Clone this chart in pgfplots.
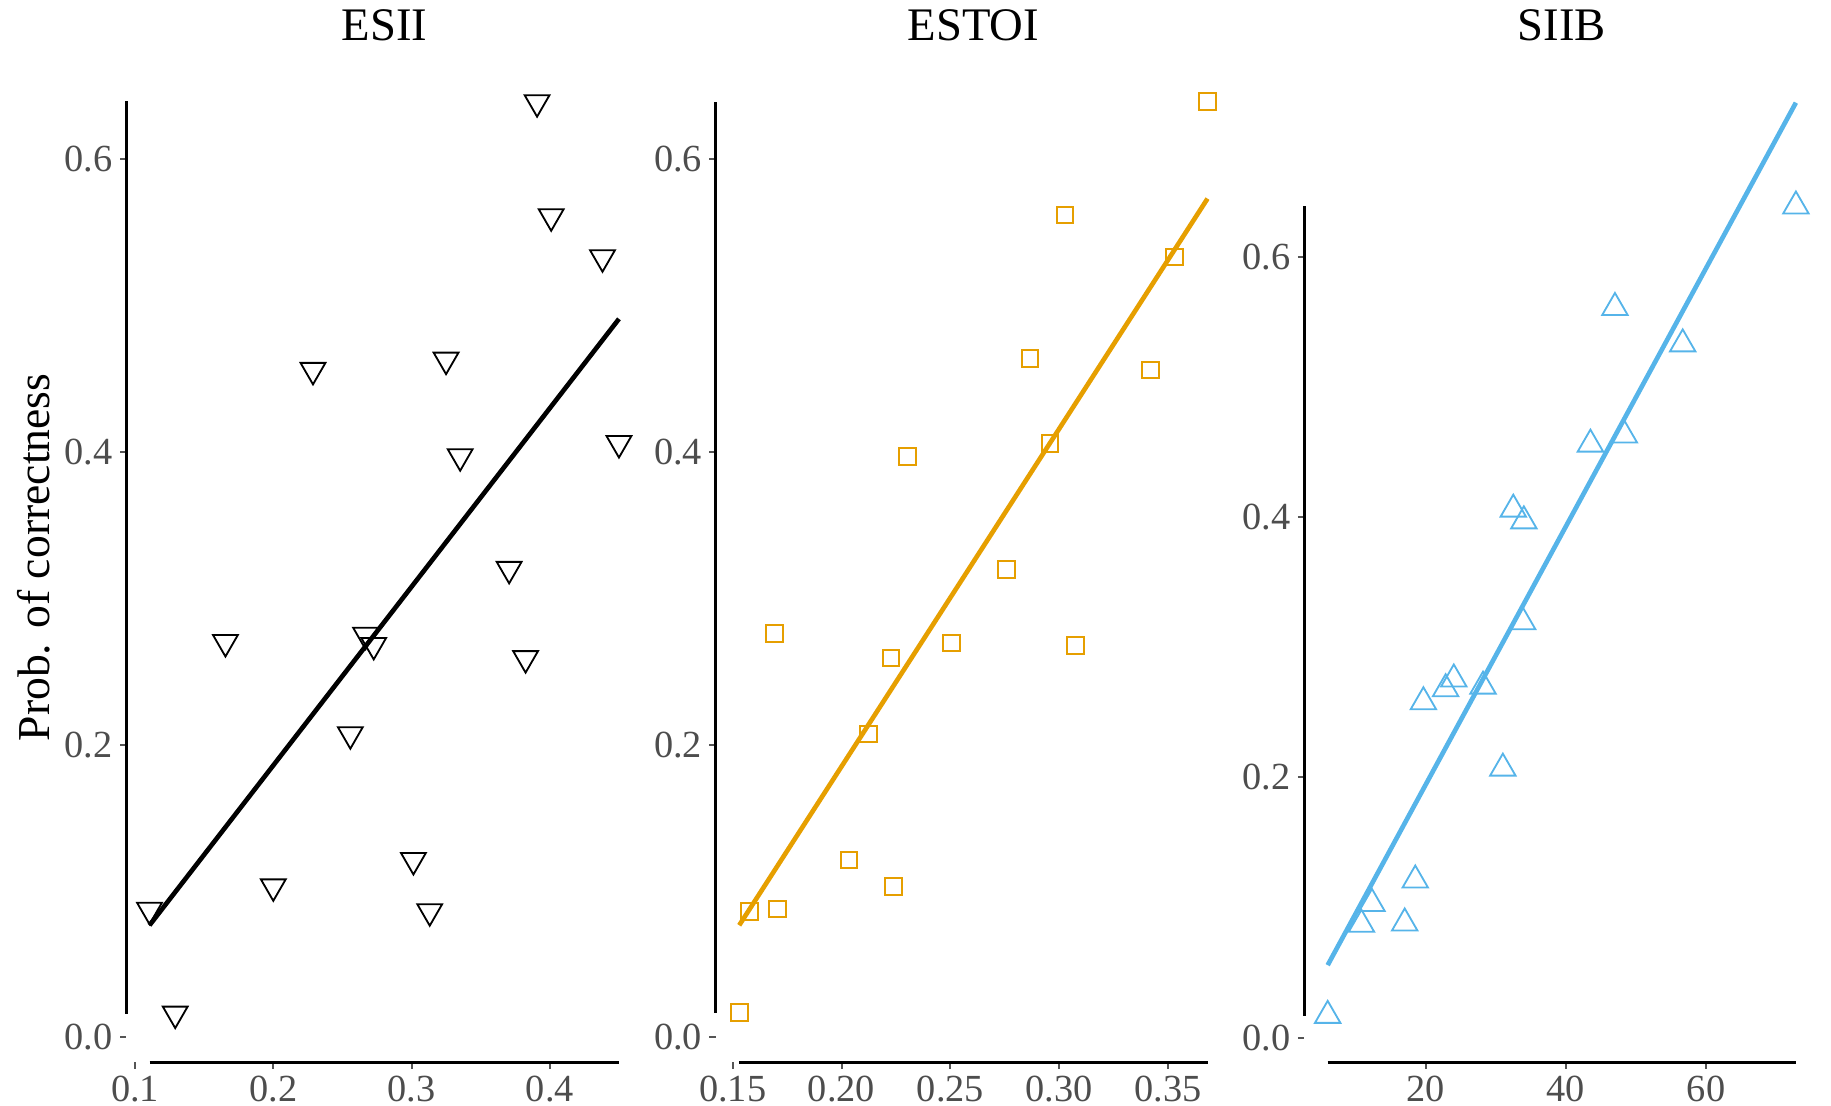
\documentclass[border=0pt]{standalone}
\usepackage{fontspec}
\setmainfont{Liberation Serif}
\usepackage{pgfplots}
\pgfplotsset{compat=1.18}
\definecolor{okorange}{HTML}{E69F00}
\definecolor{okblue}{HTML}{56B4E9}
\definecolor{labgray}{HTML}{4D4D4D}
\definecolor{tickgray}{HTML}{555555}
\pgfplotsset{
  rf/.style={
    scale only axis, anchor=south west, height=301.65pt,
    axis x line*=bottom, axis y line*=left,
    axis line style={draw=none},
    tick align=outside, major tick length=1.9pt,
    tick style={color=tickgray, line width=0.6pt},
    ticklabel style={font=\fontsize{11.5}{12}\selectfont, text=labgray, inner sep=2pt},
    ytick={0,0.2,0.4,0.6}, yticklabels={0.0,0.2,0.4,0.6},
    minor tick num=0,
    clip=false,
  },
  frame/.style={black, line width=0.8pt, forget plot},
  fit/.style={line width=1.4pt, forget plot},
}
\begin{document}
\begin{tikzpicture}
\useasboundingbox (0,0) rectangle (549.3pt,331.8pt);
% ---------------- ESII ----------------
\begin{axis}[rf, at={(37.92pt,13.05pt)}, width=154.86pt,
  xmin=0.0938, xmax=0.467, ymin=-0.0173, ymax=0.670,
  xtick={0.1,0.2,0.3,0.4}, xticklabels={0.1,0.2,0.3,0.4}]
\addplot[frame] coordinates {(0.1105,-0.0173) (0.4499,-0.0173)};
\addplot[frame] coordinates {(0.0938,0.016) (0.0938,0.640)};
\addplot[fit, black] coordinates {(0.1105,0.0765) (0.4499,0.491)};
\addplot[only marks, mark=triangle, mark size=4.3pt, black,
  mark options={rotate=180, line width=0.55pt, fill=none}] coordinates {
(0.1105,0.087) (0.1291,0.016) (0.1654,0.270) (0.2000,0.103) (0.2287,0.456)
(0.2557,0.207) (0.2667,0.275) (0.2726,0.268) (0.3013,0.121) (0.3131,0.086)
(0.3249,0.463) (0.3351,0.397) (0.3705,0.320) (0.3824,0.259) (0.3907,0.639)
(0.4009,0.561) (0.4380,0.533) (0.4499,0.406)};
\end{axis}
% ---------------- ESTOI ----------------
\begin{axis}[rf, at={(214.74pt,13.05pt)}, width=154.47pt,
  xmin=0.14225, xmax=0.37875, ymin=-0.0173, ymax=0.670,
  xtick={0.15,0.2,0.25,0.3,0.35}, xticklabels={0.15,0.20,0.25,0.30,0.35}]
\addplot[frame] coordinates {(0.1530,-0.0173) (0.3681,-0.0173)};
\addplot[frame] coordinates {(0.14225,0.0167) (0.14225,0.6394)};
\addplot[fit, okorange] coordinates {(0.1530,0.0765) (0.3681,0.5732)};
\addplot[only marks, mark=square, mark size=2.5pt, okorange,
  mark options={line width=0.6pt, fill=none}] coordinates {
(0.1530,0.0167) (0.1578,0.0860) (0.1707,0.0877) (0.1691,0.2758) (0.2034,0.1211)
(0.2125,0.2072) (0.2227,0.2591) (0.2238,0.1028) (0.2302,0.3970) (0.2506,0.2694)
(0.2758,0.3197) (0.2865,0.4640) (0.2957,0.4058) (0.3026,0.5621) (0.3075,0.2679)
(0.3418,0.4560) (0.3530,0.5334) (0.3681,0.6394)};
\end{axis}
% ---------------- SIIB ----------------
\begin{axis}[rf, at={(391.29pt,13.05pt)}, width=154.5pt,
  xmin=2.66, xmax=76.17, ymin=-0.0191, ymax=0.7536,
  xtick={20,40,60}, xticklabels={20,40,60}]
\addplot[frame] coordinates {(5.996,-0.0191) (72.83,-0.0191)};
\addplot[frame] coordinates {(2.66,0.0167) (2.66,0.6394)};
\addplot[fit, okblue] coordinates {(5.996,0.0557) (72.83,0.7185)};
\addplot[only marks, mark=triangle, mark size=4.4pt, okblue,
  mark options={line width=0.55pt, fill=none}] coordinates {
(5.996,0.017) (10.82,0.087) (12.32,0.103) (16.99,0.088) (18.50,0.121)
(19.66,0.258) (22.83,0.268) (24.00,0.2755) (28.17,0.270) (31.00,0.207)
(32.49,0.406) (34.00,0.397) (33.83,0.3195) (43.50,0.456) (47.00,0.561)
(48.34,0.463) (56.67,0.533) (72.83,0.639)};
\end{axis}
% titles and label
\node[anchor=base, inner sep=0, font=\fontsize{14}{16}\selectfont] at (115.35pt,319.5pt) {ESII};
\node[anchor=base, inner sep=0, font=\fontsize{14}{16}\selectfont] at (291.98pt,319.5pt) {ESTOI};
\node[anchor=base, inner sep=0, font=\fontsize{14}{16}\selectfont] at (468.54pt,319.5pt) {SIIB};
\node[rotate=90, anchor=base, inner sep=0, font=\fontsize{13.7}{16}\selectfont] at (15pt,164.55pt) {Prob. of correctness};
\end{tikzpicture}
\end{document}
